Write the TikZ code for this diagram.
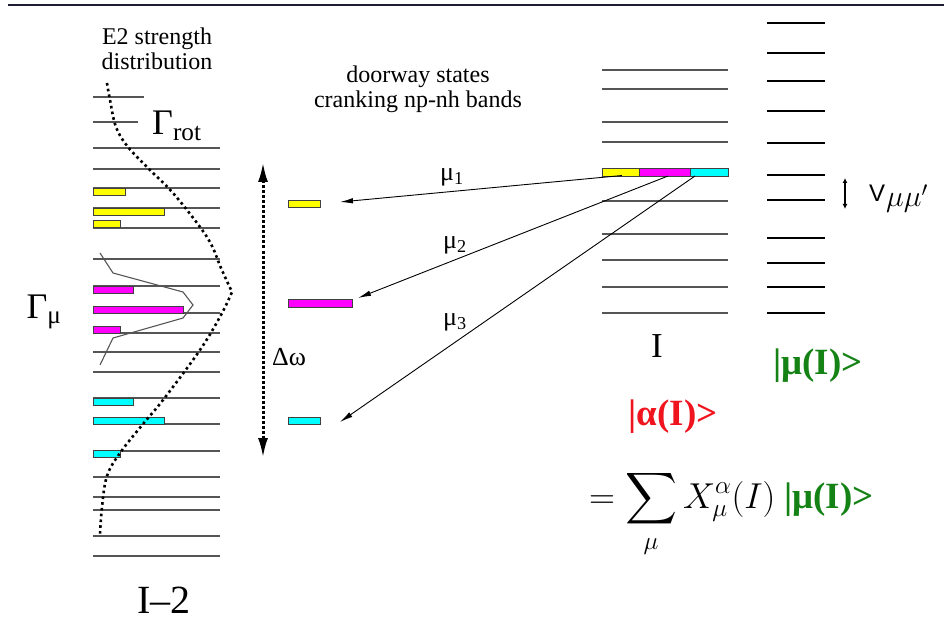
\RequirePackage{fix-cm}
\documentclass[tikz,border=0pt]{standalone}
\usepackage[no-math]{fontspec}
\setmainfont{Liberation Serif}
\setsansfont{Liberation Sans}
\usepackage{xcolor}
\usepackage{tikz}
\usetikzlibrary{positioning, arrows.meta}
\DeclareFontShape{OMX}{cmex}{m}{n}{<-> cmex10}{}

\definecolor{rulenavy}{RGB}{28,28,52}
\definecolor{lvlgray}{RGB}{85,85,85}
\definecolor{statered}{RGB}{240,20,30}
\definecolor{stategreen}{RGB}{20,130,20}
\definecolor{baryellow}{RGB}{255,255,0}
\definecolor{barmagenta}{RGB}{255,0,255}
\definecolor{barcyan}{RGB}{0,255,255}

\begin{document}
\begin{tikzpicture}[
    x=1pt, y=-1pt,
    lvl/.style={draw=lvlgray, line width=1.1pt},
    band/.style={draw=black, line width=2.4pt},
    bar/.style={draw=black!75, line width=0.6pt, inner sep=0pt, minimum height=7pt, anchor=west},
    ybar/.style={bar, fill=baryellow},
    mbar/.style={bar, fill=barmagenta},
    cbar/.style={bar, fill=barcyan},
    arr/.style={-{Latex[length=13pt, width=5.5pt]}, line width=0.9pt},
    lab/.style={font=\fontsize{24}{25}\selectfont, align=center, inner sep=0pt},
    big/.style={font=\fontsize{36}{38}\selectfont, inner sep=0pt},
    mulab/.style={font=\fontsize{26}{28}\selectfont, inner sep=0pt},
    ket/.style={font=\fontsize{37}{38}\selectfont\bfseries, inner sep=0pt}
  ]
  \useasboundingbox (0,0) rectangle (944,636);
  \draw[rulenavy, line width=2pt] (8,5) -- (944,5);

  % I-2 band with E2 strength
  \draw[lvl] (93,97) -- (144,97);
  \draw[lvl] (93,122) -- (138,122);
  \foreach \y in {148,169,188,208,228,259,286,313,333,352,372,398,424,451,477,497,510,536,556}
    \draw[lvl] (93,\y) -- (220,\y);
  \node[ybar, minimum width=32pt] (ly1) at (93,191.8) {};
  \node[ybar, minimum width=71pt] (ly2) at (93,211.4) {};
  \node[ybar, minimum width=27pt] (ly3) at (93,224.2) {};
  \node[mbar, minimum width=40pt] (lm1) at (93,290) {};
  \node[mbar, minimum width=90pt] (lm2) at (93,309.7) {};
  \node[mbar, minimum width=27pt] (lm3) at (93,329.4) {};
  \node[cbar, minimum width=40pt] (lc1) at (93,401.4) {};
  \node[cbar, minimum width=71pt] (lc2) at (93,421) {};
  \node[cbar, minimum width=27pt] (lc3) at (93,454) {};
  \draw[lvlgray, line width=1.1pt] (100,253) -- (113,273) -- (183,292) -- (193,305)
    -- (183,318) -- (113,338) -- (100,365);
  \draw[line width=2.6pt, dash pattern=on 2.6pt off 3.2pt]
    plot[smooth, tension=0.6] coordinates {(107,83) (110,100) (116,127) (128,147) (150,170)
      (173,193) (200,227) (212,246) (221,268) (232,292)}
    -- plot[smooth, tension=0.6] coordinates {(232,292) (221,315) (200,350) (163,400)
      (143,424) (120,453) (107,476) (102,507) (100,535)};
  \node[lab] (e2) at (157,49) {E2 strength\\distribution};
  \node[big, anchor=west] (grot) at (152,126) {Γ\textsubscript{rot}};
  \node[big] (gmu) at (44,312) {Γ\textsubscript{μ}};
  \node[font=\fontsize{40}{42}\selectfont, inner sep=0pt] (iminus) at (164,600) {I–2};

  % doorway states
  \node[ybar, minimum width=32pt] (dy) at (288,204) {};
  \node[mbar, minimum width=64pt, minimum height=8pt] (dm) at (288,303) {};
  \node[cbar, minimum width=32pt] (dc) at (288,420.5) {};
  \node[lab] (door) at (418,89) {doorway states\\cranking np-nh bands};
  \coordinate (wtop) at (263,162);
  \coordinate (wbot) at (263,458);
  \draw[line width=3pt, dash pattern=on 3pt off 2pt,
    {Latex[length=20pt, width=10pt]}-{Latex[length=20pt, width=10pt]}] (wtop) -- (wbot);
  \node[mulab] (dw) at (289,357) {Δω};

  % I band
  \foreach \y in {70,89,122,142,201,234,260,287,313}
    \draw[lvl] (602,\y) -- (728,\y);
  \node[ybar, minimum width=37pt, minimum height=8pt] (ry) at (602,172) {};
  \node[mbar, minimum width=51pt, minimum height=8pt] (rm) at (639,172) {};
  \node[cbar, minimum width=38pt, minimum height=8pt] (rc) at (690,172) {};
  \coordinate (s1) at (622,175.5);
  \coordinate (s2) at (668,176);
  \coordinate (s3) at (695,176);
  \coordinate (t1) at (340,202);
  \coordinate (t2) at (358,298);
  \coordinate (t3) at (340,422);
  \draw[arr] (s1) -- (t1);
  \draw[arr] (s2) -- (t2);
  \draw[arr] (s3) -- (t3);
  \node[mulab] (mu1) at (452,177) {μ\textsubscript{1}};
  \node[mulab] (mu2) at (455,245) {μ\textsubscript{2}};
  \node[mulab] (mu3) at (455,322) {μ\textsubscript{3}};
  \node[font=\fontsize{35}{36}\selectfont, inner sep=0pt] (ilab) at (657,346) {I};

  % mu(I) band
  \foreach \y in {23,53,81,111,143,175,200,238,263,287,313}
    \draw[band] (767,\y) -- (825,\y);
  \coordinate (vtop) at (845,178);
  \coordinate (vbot) at (845,209);
  \draw[line width=1.3pt, {Latex[length=5pt, width=5pt]}-{Latex[length=5pt, width=5pt]}] (vtop) -- (vbot);
  \node[font=\fontsize{24}{26}\selectfont\sffamily, anchor=base west, inner sep=0pt] (vmu) at (869,202)
    {V\kern1pt{\fontsize{30}{32}\selectfont\raisebox{-5pt}{$\mu\mu'$}}};

  \node[ket, text=stategreen] (muket) at (818,366) {|μ(I)>};
  \node[ket, text=statered] (alket) at (673,417) {|α(I)>};
  \node[anchor=base west, inner sep=0pt, font=\fontsize{36}{38}\selectfont] (sumeq) at (589,508)
    {$\displaystyle =\sum_{\mu} X^{\alpha}_{\mu}(I)$\ {\color{stategreen}\fontsize{37}{38}\selectfont\bfseries |μ(I)>}};
\end{tikzpicture}
\end{document}
